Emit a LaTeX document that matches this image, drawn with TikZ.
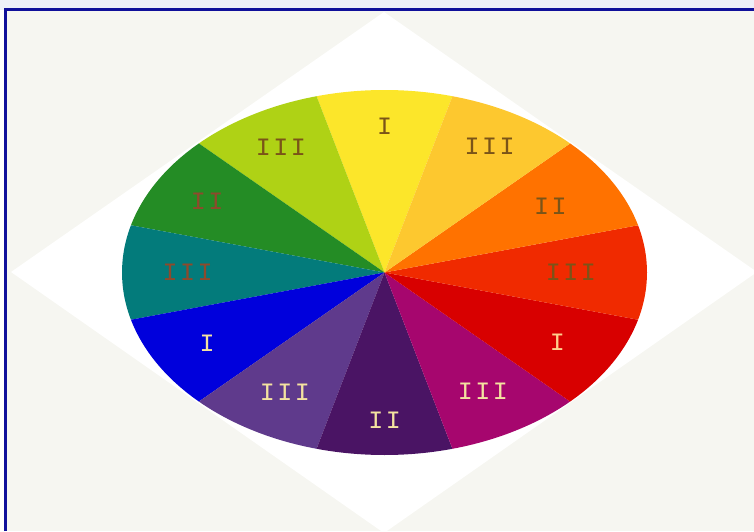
\documentclass[tikz,border=0pt]{standalone}
\usepackage{fontspec}
\usetikzlibrary{calc}
\newfontfamily\wheelfont[LetterSpace=10]{Liberation Mono}
\definecolor{paper}{HTML}{F6F6F1}
\definecolor{topstrip}{HTML}{EEF0F8}
\definecolor{frameblue}{HTML}{10109A}
% sector colours
\definecolor{cyellow}{HTML}{FCE62A}
\definecolor{clime}{HTML}{AFD215}
\definecolor{cgreen}{HTML}{248C25}
\definecolor{cteal}{HTML}{037B7B}
\definecolor{cblue}{HTML}{0000DC}
\definecolor{cpurple}{HTML}{5F3A8C}
\definecolor{cdpurple}{HTML}{4A1464}
\definecolor{cmagenta}{HTML}{A6066E}
\definecolor{cred}{HTML}{D80000}
\definecolor{credor}{HTML}{F02A00}
\definecolor{corange}{HTML}{FF7200}
\definecolor{cyelor}{HTML}{FDC82F}
% label colours
\definecolor{lbrown}{HTML}{7A5418}
\definecolor{lrust}{HTML}{8E4A2C}
\definecolor{lcream}{HTML}{F4E2A0}
\definecolor{lpeach}{HTML}{FFD08C}

\begin{document}
\begin{tikzpicture}[
  x=1pt, y=1pt,
  seclab/.style={font=\wheelfont\fontsize{25}{25}\selectfont, inner sep=0pt},
  frame/.style={draw=frameblue, line width=3pt},
]
\useasboundingbox (0,0) rectangle (754,531);

% Background and frame
\fill[white] (0,0) rectangle (754,531);
\fill[topstrip] (0,521) rectangle (754,531);
\fill[paper] (7,0) rectangle (754,519.5);
\draw[frame] (5.5,0) -- (5.5,521) -- (754,521);

% White diamond behind the wheel
\fill[white] (384,519) -- (11,259) -- (384,-2) -- (757,259) -- cycle;

% Colour wheel: 12 sectors, 30 degrees each (\r = label distance)
\coordinate (c) at (384.5,258.5);
\foreach \col/\lab/\tc/\r [count=\i from 0] in {
    cyellow/I/lbrown/0.80, clime/III/lbrown/0.79, cgreen/II/lrust/0.78,
    cteal/III/lrust/0.75, cblue/I/lcream/0.78, cpurple/III/lcream/0.76,
    cdpurple/II/lcream/0.81, cmagenta/III/lcream/0.75, cred/I/lpeach/0.76,
    credor/III/lbrown/0.71, corange/II/lbrown/0.73, cyelor/III/lbrown/0.80} {
  \pgfmathsetmacro\a{75+30*\i}
  \fill[\col] (c) -- ($(c)+(\a:262.5 and 182.5)$)
    arc[start angle=\a, delta angle=30, x radius=262.5, y radius=182.5] -- cycle;
  \node[seclab, text=\tc] (lab\i) at ($(c)+(\a+15:{\r*262.5} and {\r*182.5})$) {\lab};
}
\end{tikzpicture}
\end{document}
